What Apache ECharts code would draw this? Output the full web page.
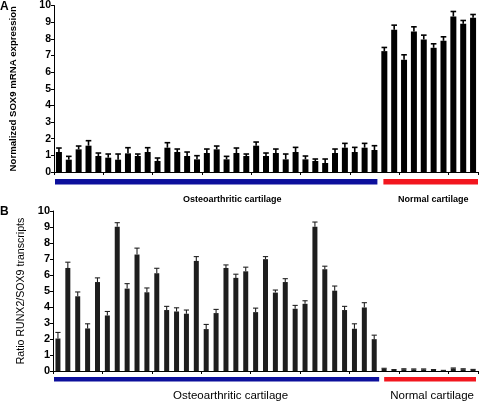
<!DOCTYPE html>
<html>
<head>
<meta charset="utf-8">
<script src="https://cdn.jsdelivr.net/npm/echarts@6/dist/echarts.min.js"></script>
<style>
html,body{margin:0;padding:0;background:#fff;}
#c{width:480px;height:402px;}
</style>
</head>
<body>
<div id="c"></div>
<script>
// ---------- DATA ----------
const categories = [
  'OA1','OA2','OA3','OA4','OA5','OA6','OA7','OA8','OA9','OA10','OA11',
  'OA12','OA13','OA14','OA15','OA16','OA17','OA18','OA19','OA20','OA21','OA22',
  'OA23','OA24','OA25','OA26','OA27','OA28','OA29','OA30','OA31','OA32','OA33',
  'N1','N2','N3','N4','N5','N6','N7','N8','N9','N10'
];
const sox9 = [
  1.20,0.74,1.36,1.58,0.96,0.86,0.74,1.12,0.96,1.20,0.66,
  1.46,1.20,0.96,0.76,1.14,1.36,0.76,1.14,0.96,1.58,0.96,
  1.14,0.76,1.20,0.76,0.66,0.54,1.14,1.46,1.20,1.46,1.32,
  7.26,8.54,6.74,8.44,7.96,7.46,7.88,9.34,8.90,9.26
];
const sox9Err = [
  0.24,0.20,0.20,0.30,0.18,0.22,0.34,0.34,0.12,0.26,0.18,
  0.30,0.18,0.24,0.22,0.24,0.20,0.18,0.30,0.12,0.22,0.18,
  0.24,0.32,0.28,0.20,0.12,0.24,0.24,0.26,0.28,0.26,0.26,
  0.22,0.28,0.30,0.28,0.26,0.24,0.24,0.30,0.20,0.20
];
const ratio = [
  2.03,6.44,4.67,2.66,5.56,3.47,9.02,5.15,7.28,4.92,6.11,
  3.81,3.72,3.58,6.88,2.62,3.62,6.44,5.82,6.23,3.68,6.99,
  4.90,5.56,3.89,4.20,9.02,6.36,5.02,3.81,2.64,3.97,1.99,
  0.14,0.07,0.11,0.10,0.10,0.07,0.02,0.16,0.11,0.08
];
const ratioErr = [
  0.38,0.36,0.27,0.29,0.26,0.25,0.25,0.31,0.40,0.27,0.31,
  0.23,0.23,0.23,0.27,0.29,0.23,0.19,0.23,0.26,0.25,0.16,
  0.16,0.21,0.21,0.19,0.29,0.19,0.29,0.23,0.31,0.30,0.25,
  0.03,0.02,0.03,0.03,0.03,0.02,0.02,0.03,0.03,0.02
];
const groupNames = ['Osteoarthritic cartilage','Normal cartilage'];
const groupStart = [0, 33];
const groupEnd = [32, 42];
const yTicks = ['0','1','2','3','4','5','6','7','8','9','10'];

// ---------- STYLE ----------
const FONT = "'Liberation Sans', Arial, sans-serif";
const groupColors = ['#0c0f9c', '#f2161e'];

function errSeries(xi, yi, vals, errs, color, lw, half) {
  return {
    type: 'custom', xAxisIndex: xi, yAxisIndex: yi, z: 3,
    data: vals.map((v, i) => [i, v, errs[i]]),
    encode: { x: 0, y: 1 },
    renderItem: function (params, api) {
      const i = api.value(0), v = api.value(1), e = api.value(2);
      const p0 = api.coord([i, v]);
      const p1 = api.coord([i, v + e]);
      const st = { stroke: color, lineWidth: lw };
      return { type: 'group', children: [
        { type: 'line', shape: { x1: p0[0], y1: p0[1], x2: p1[0], y2: p1[1] }, style: st },
        { type: 'line', shape: { x1: p1[0] - half, y1: p1[1], x2: p1[0] + half, y2: p1[1] }, style: st }
      ]};
    }
  };
}

function bandSeries(xi, yi, cfg) {
  return {
    type: 'custom', xAxisIndex: xi, yAxisIndex: yi, clip: false, z: 3,
    data: groupStart.map((s, k) => [s, groupEnd[k], k]),
    encode: { x: [0, 1] },
    renderItem: function (params, api) {
      const s = api.value(0), e = api.value(1), k = api.value(2);
      const bw = api.size([1, 0])[0];
      const a = api.coord([s, 0]), b = api.coord([e, 0]);
      const x0 = a[0] - bw / 2 + cfg.inset[k][0];
      const x1 = b[0] + bw / 2 - cfg.inset[k][1];
      const y0 = a[1];
      return { type: 'group', children: [
        { type: 'rect', shape: { x: x0, y: y0 + cfg.bandOff, width: x1 - x0, height: cfg.bandH },
          style: { fill: groupColors[k] } },
        { type: 'text', style: {
            text: groupNames[k], x: (x0 + x1) / 2 + cfg.labelDx[k], y: y0 + cfg.labelOff,
            align: 'center', verticalAlign: 'middle',
            fontSize: cfg.fontSize, fontWeight: cfg.fontWeight, fontFamily: FONT, fill: '#000' } }
      ]};
    }
  };
}

const chart = echarts.init(document.getElementById('c'), null, { renderer: 'canvas' });

const axisLineStyle = { show: true, lineStyle: { color: '#000', width: 1 } };

chart.setOption({
  animation: false,
  backgroundColor: '#fff',
  grid: [
    { left: 53, right: 2, top: 5, height: 167, containLabel: false },
    { left: 53, right: 2, top: 211, height: 160, containLabel: false }
  ],
  xAxis: [0, 1].map(g => ({
    type: 'category', gridIndex: g, data: categories,
    axisLine: axisLineStyle,
    axisTick: { show: true, length: 3, lineStyle: { color: '#000' } },
    axisLabel: { show: false }, splitLine: { show: false }
  })),
  yAxis: [
    {
      type: 'value', gridIndex: 0, min: 0, max: 10, interval: 1,
      name: 'Normalized SOX9 mRNA expression', nameLocation: 'middle', nameGap: 36,
      nameTextStyle: { fontFamily: FONT, fontSize: 9.6, fontWeight: 'bold', color: '#000' },
      axisLine: axisLineStyle,
      axisTick: { show: true, length: 3, lineStyle: { color: '#000' } },
      axisLabel: { fontFamily: FONT, fontSize: 10.5, fontWeight: 'bold', color: '#000', margin: 3,
        formatter: v => yTicks[Math.round(v)] },
      splitLine: { show: false }
    },
    {
      type: 'value', gridIndex: 1, min: 0, max: 10, interval: 1,
      name: 'Ratio RUNX2/SOX9 transcripts', nameLocation: 'middle', nameGap: 24,
      nameTextStyle: { fontFamily: FONT, fontSize: 10.6, color: '#000' },
      axisLine: axisLineStyle,
      axisTick: { show: true, length: 3, lineStyle: { color: '#000' } },
      axisLabel: { fontFamily: FONT, fontSize: 11, fontWeight: 'bold', color: '#000', margin: 3,
        formatter: v => yTicks[Math.round(v)] },
      splitLine: { show: false }
    }
  ],
  series: [
    { type: 'bar', xAxisIndex: 0, yAxisIndex: 0, data: sox9, barWidth: 6,
      itemStyle: { color: '#000' } },
    errSeries(0, 0, sox9, sox9Err, '#000', 1.6, 2.8),
    bandSeries(0, 0, { inset: [[1, 2], [4, 0]], bandOff: 7, bandH: 5.5, labelOff: 28,
      labelDx: [16, 2.5], fontSize: 9, fontWeight: 'bold' }),
    { type: 'bar', xAxisIndex: 1, yAxisIndex: 1, data: ratio, barWidth: 5,
      itemStyle: { color: '#1e1e1e' } },
    errSeries(1, 1, ratio, ratioErr, '#222', 1.1, 2.6),
    bandSeries(1, 1, { inset: [[1, 0], [5, 2]], bandOff: 6, bandH: 4.5, labelOff: 25,
      labelDx: [14, 2], fontSize: 11.5, fontWeight: 'normal' })
  ],
  graphic: [
    { type: 'text', left: 0, top: 1, style: { text: 'A', fontFamily: FONT, fontSize: 12, fontWeight: 'bold', fill: '#000' } },
    { type: 'text', left: 0, top: 206, style: { text: 'B', fontFamily: FONT, fontSize: 12, fontWeight: 'bold', fill: '#000' } }
  ]
});
</script>
</body>
</html>
